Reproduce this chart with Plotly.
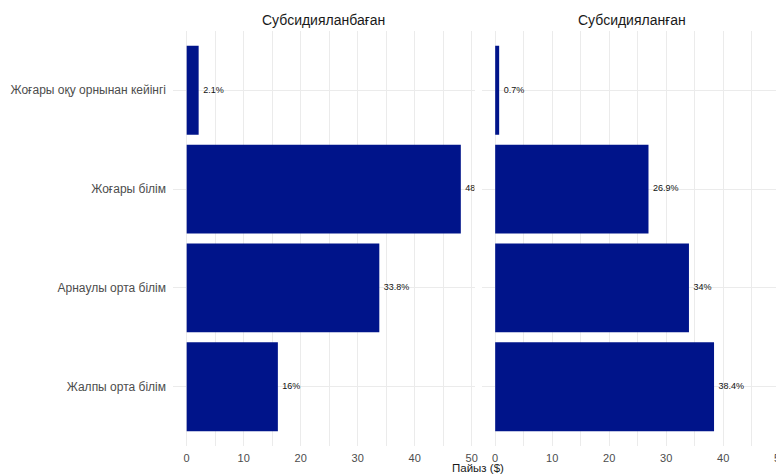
import plotly.graph_objects as go

categories = ["Жоғары оқу орнынан кейінгі", "Жоғары білім", "Арнаулы орта білім", "Жалпы орта білім"]
panels = ["Субсидияланбаған", "Субсидияланған"]
unsubsidized = [2.1, 48.1, 33.8, 16.0]
subsidized = [0.7, 26.9, 34.0, 38.4]
x_ticks = [0, 10, 20, 30, 40, 50]
x_title = "Пайыз ($)"

bar_color = "#00148A"
grid_color = "#EBEBEB"
font_family = "Liberation Sans, Arial, sans-serif"

W = 784.0
D1 = [165 / W, 466.5 / W]
D2 = [473.5 / W, 775 / W]


def fmt(v):
    s = f"{v:.1f}".rstrip("0").rstrip(".")
    return "\u2002" + s + "%"


fig = go.Figure()
series = [unsubsidized, subsidized]
for i, vals in enumerate(series):
    xa = "x" if i == 0 else "x2"
    ya = "y" if i == 0 else "y2"
    fig.add_trace(go.Bar(
        x=vals, y=categories, orientation="h", width=0.9,
        marker=dict(color=bar_color, line=dict(width=0)),
        xaxis=xa, yaxis=ya, showlegend=False, hoverinfo="skip",
    ))
    fig.add_trace(go.Scatter(
        x=vals, y=categories, mode="text", text=[fmt(v) for v in vals],
        textposition="middle right",
        textfont=dict(size=9, color="#111111", family=font_family),
        xaxis=xa, yaxis=ya, showlegend=False, cliponaxis=True, hoverinfo="skip",
    ))

xcommon = dict(
    range=[-2.4, 50.5], tickvals=x_ticks, showgrid=True, gridcolor=grid_color, gridwidth=1,
    minor=dict(dtick=5, tick0=5, showgrid=True, gridcolor=grid_color, gridwidth=0.6),
    zeroline=False, showline=False, ticks="", automargin=False, ticklabelstandoff=4,
    tickfont=dict(size=11, color="#4D4D4D", family=font_family),
)
ycommon = dict(
    categoryorder="array", categoryarray=categories[::-1], range=[-0.6, 3.6],
    showgrid=True, gridcolor=grid_color, gridwidth=1, zeroline=False, showline=False, ticks="",
    automargin=False,
    tickfont=dict(size=12, color="#4D4D4D", family=font_family),
)

fig.update_layout(
    width=784, height=476,
    margin=dict(l=0, r=0, t=23, b=38, autoexpand=False),
    plot_bgcolor="white", paper_bgcolor="white",
    bargap=0.1,
    xaxis=dict(domain=D1, anchor="y", **xcommon),
    xaxis2=dict(domain=D2, anchor="y2", **xcommon),
    yaxis=dict(domain=[0, 1], anchor="x", ticklabelstandoff=6, **ycommon),
    yaxis2=dict(domain=[0, 1], anchor="x2", showticklabels=False, **ycommon),
    font=dict(family=font_family),
)

centers = [sum(D1) / 2, sum(D2) / 2]
for c, t in zip(centers, panels):
    fig.add_annotation(x=c, y=1, xref="paper", yref="paper", text=t, showarrow=False,
                       xanchor="center", yanchor="bottom", yshift=1,
                       font=dict(size=14, color="#1A1A1A", family=font_family))

fig.add_annotation(x=(D1[0] + D2[1]) / 2, y=0, xref="paper", yref="paper", text=x_title,
                   showarrow=False, xanchor="center", yanchor="middle", yshift=-22,
                   font=dict(size=11.5, color="#1A1A1A", family=font_family))

fig.write_html("out.html")
